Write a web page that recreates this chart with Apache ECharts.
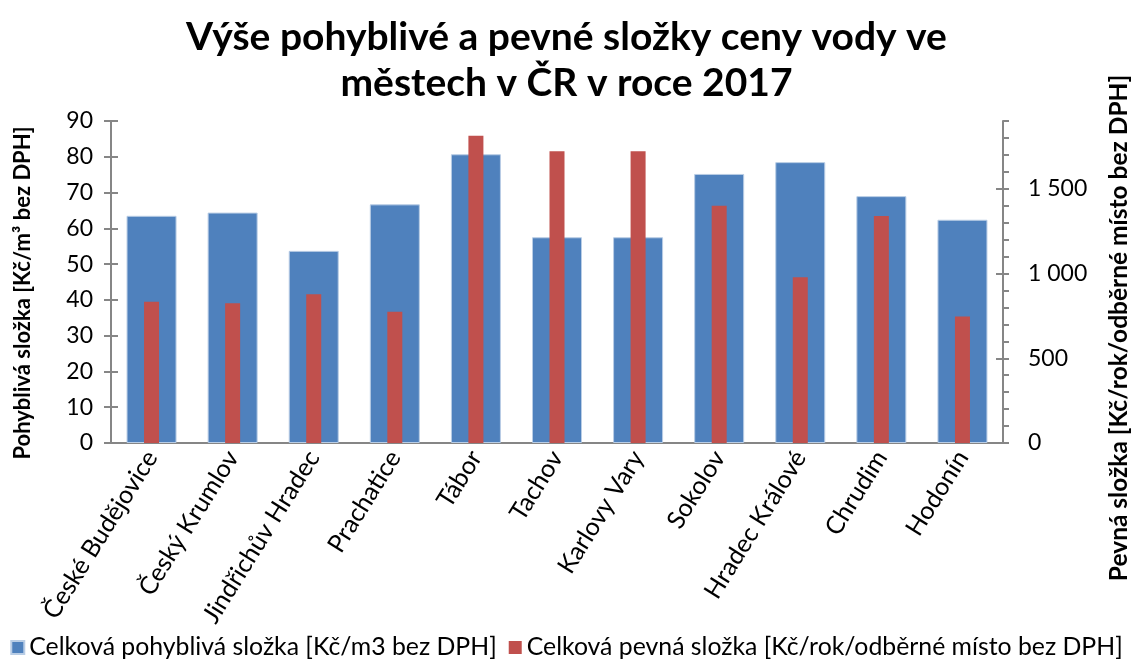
<!DOCTYPE html>
<html><head><meta charset="utf-8">
<script src="https://cdn.jsdelivr.net/npm/echarts@6/dist/echarts.min.js"></script>
<style>html,body{margin:0;padding:0;background:#fff}#c{width:1133px;height:664px}</style>
</head><body><div id="c"></div>
<script>
const categories = ['České Budějovice','Český Krumlov','Jindřichův Hradec','Prachatice','Tábor','Tachov','Karlovy Vary','Sokolov','Hradec Králové','Chrudim','Hodonín'];
const variableVals = [63.5, 64.4, 53.7, 66.7, 80.7, 57.5, 57.5, 75.2, 78.5, 69.0, 62.4];
const fixedVals = [834, 824, 877, 775, 1813, 1721, 1721, 1400, 978, 1339, 747];
const leftTicks = [0,10,20,30,40,50,60,70,80,90];
const rightLabelTicks = [0,500,1000,1500];
const seriesNames = ['Celková pohyblivá složka [Kč/m3 bez DPH]','Celková pevná složka [Kč/rok/odběrné místo bez DPH]'];

const FONT = 'Lato';
const axisGray = '#868686';
const chart = echarts.init(document.getElementById('c'), null, {renderer:'canvas'});
const fmt = v => v >= 1000 ? String(v).replace(/\B(?=(\d{3})+(?!\d))/g, ' ') : String(v);

chart.setOption({
  animation:false,
  textStyle:{fontFamily:FONT},
  title:{
    text:'Výše pohyblivé a pevné složky ceny vody ve\nměstech v ČR v roce 2017',
    left:'center', top:14, padding:0,
    textStyle:{fontFamily:FONT, fontWeight:'bold', fontSize:39, lineHeight:46, color:'#000'}
  },
  legend:{
    bottom:-1, left:'center', icon:'rect', itemWidth:13, itemHeight:13, itemGap:12,
    textStyle:{fontFamily:FONT, fontSize:24.8, color:'#000'},
    data:seriesNames
  },
  grid:{left:111, right:130, top:121, bottom:221, containLabel:false},
  xAxis:[
    {type:'category', data:categories, axisLine:{lineStyle:{color:axisGray, width:2}},
     axisTick:{show:false},
     axisLabel:{rotate:58, fontSize:25, color:'#000', margin:10, interval:0, fontFamily:FONT}},
    {type:'category', data:categories, show:false}
  ],
  yAxis:[
    {type:'value', min:0, max:90, interval:10, position:'left',
     axisLine:{show:true, lineStyle:{color:axisGray, width:2}},
     axisTick:{show:true, length:7, lineStyle:{color:axisGray, width:2}},
     splitLine:{show:false},
     axisLabel:{fontSize:23, color:'#000', margin:18, fontFamily:FONT}},
    {type:'value', min:0, max:1900, interval:100, position:'right',
     axisLine:{show:true, lineStyle:{color:axisGray, width:2}},
     axisTick:{show:true, length:6, lineStyle:{color:axisGray, width:2}},
     splitLine:{show:false},
     axisLabel:{fontSize:23, color:'#000', margin:25, fontFamily:FONT, customValues:rightLabelTicks, formatter:fmt}},
    {type:'value', min:0, max:90, interval:10, position:'left',
     axisLine:{show:false}, axisLabel:{show:false}, splitLine:{show:false},
     axisTick:{show:true, inside:true, length:7, lineStyle:{color:axisGray, width:2}}},
    {type:'value', min:0, max:1900, interval:100, position:'right',
     axisLine:{show:false}, axisLabel:{show:false}, splitLine:{show:false},
     axisTick:{show:true, inside:true, length:7, customValues:rightLabelTicks, lineStyle:{color:axisGray, width:2}}}
  ],
  graphic:[
    {type:'text', x:23, y:293, rotation:Math.PI/2,
     style:{text:'Pohyblivá složka [Kč/m³ bez DPH]', fontFamily:FONT, fontWeight:'bold', fontSize:22, fill:'#000', align:'center', verticalAlign:'middle'}},
    {type:'text', x:1119, y:328, rotation:Math.PI/2,
     style:{text:'Pevná složka [Kč/rok/odběrné místo bez DPH]', fontFamily:FONT, fontWeight:'bold', fontSize:24.5, fill:'#000', align:'center', verticalAlign:'middle'}}
  ],
  series:[
    {name:seriesNames[0], type:'bar', xAxisIndex:0, yAxisIndex:0, data:variableVals, barWidth:50,
     itemStyle:{color:'#4F81BD', borderColor:'#B9CDE5', borderWidth:1}, z:2},
    {name:seriesNames[1], type:'bar', xAxisIndex:1, yAxisIndex:1, data:fixedVals, barWidth:15,
     itemStyle:{color:'#C0504D'}, z:3}
  ]
});
</script></body></html>
